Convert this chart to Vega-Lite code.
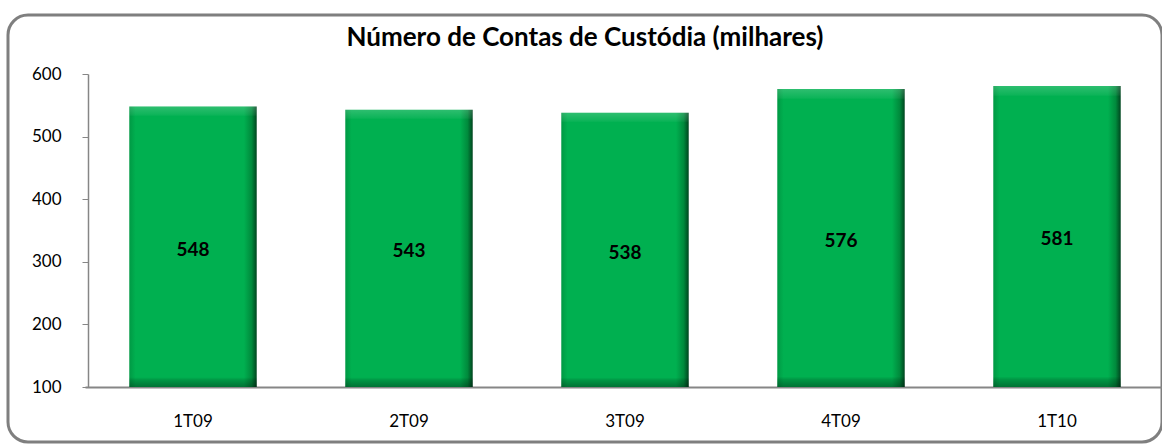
{
  "$schema": "https://vega.github.io/schema/vega-lite/v6.json",
  "autosize": {"type": "none"},
  "padding": {"left": 8, "top": 15, "right": 0, "bottom": 2},
  "width": 1154,
  "height": 427,
  "background": "white",
  "config": {
    "view": {"stroke": "#7f7f7f", "strokeWidth": 3, "cornerRadius": 20, "fill": "white"},
    "font": "Lato"
  },
  "title": {
    "text": "Número de Contas de Custódia (milhares)",
    "fontSize": 26,
    "fontWeight": "bold",
    "font": "Lato",
    "color": "#000000",
    "anchor": "middle",
    "frame": "group",
    "offset": -57,
    "baseline": "alphabetic"
  },
  "data": {
    "values": [
      {"q": "1T09", "v": 548},
      {"q": "2T09", "v": 543},
      {"q": "3T09", "v": 538},
      {"q": "4T09", "v": 576},
      {"q": "1T10", "v": 581}
    ]
  },
  "transform": [{"calculate": "(datum.v + 100) / 2", "as": "mid"}],
  "encoding": {
    "x": {
      "field": "q",
      "type": "nominal",
      "sort": null,
      "scale": {"range": [77, 1157], "paddingInner": 0.41, "paddingOuter": 0.205},
      "axis": {
        "orient": "bottom",
        "offset": -55,
        "title": null,
        "ticks": false,
        "labelPadding": 26,
        "labelFontSize": 17,
        "labelFont": "Lato",
        "labelColor": "#000000",
        "labelAngle": 0,
        "domainColor": "#868686",
        "domainWidth": 2
      }
    }
  },
  "layer": [
    {
      "mark": {
        "type": "bar",
        "color": {
          "gradient": "linear",
          "x1": 0, "x2": 1, "y1": 0, "y2": 0,
          "stops": [
            {"offset": 0, "color": "#009944"},
            {"offset": 0.05, "color": "#00b050"},
            {"offset": 0.9, "color": "#00b050"},
            {"offset": 0.96, "color": "#008a3c"},
            {"offset": 1, "color": "#00451f"}
          ]
        }
      },
      "encoding": {
        "y": {
          "field": "v",
          "type": "quantitative",
          "scale": {"domain": [100, 600], "range": [372, 59], "nice": false, "zero": false},
          "axis": {
            "orient": "left",
            "offset": -80,
            "title": null,
            "grid": false,
            "values": [100, 200, 300, 400, 500, 600],
            "domainColor": "#868686",
            "domainWidth": 1.5,
            "tickColor": "#868686",
            "tickSize": 6,
            "labelPadding": 21,
            "labelFontSize": 17,
            "labelFont": "Lato",
            "labelColor": "#000000"
          }
        },
        "y2": {"datum": 100}
      }
    },
    {
      "mark": {
        "type": "bar",
        "color": {
          "gradient": "linear",
          "x1": 0, "x2": 0, "y1": 0, "y2": 1,
          "stops": [
            {"offset": 0, "color": "rgba(255,255,255,0.18)"},
            {"offset": 0.03, "color": "rgba(255,255,255,0.05)"},
            {"offset": 0.035, "color": "rgba(255,255,255,0)"},
            {"offset": 0.965, "color": "rgba(0,0,0,0)"},
            {"offset": 0.975, "color": "rgba(0,0,0,0.15)"},
            {"offset": 1, "color": "rgba(0,0,0,0.35)"}
          ]
        }
      },
      "encoding": {
        "y": {"field": "v", "type": "quantitative"},
        "y2": {"datum": 100}
      }
    },
    {
      "mark": {"type": "text", "font": "Lato", "fontWeight": "bold", "fontSize": 19, "color": "#000000", "baseline": "middle", "dy": 3},
      "encoding": {
        "y": {"field": "mid", "type": "quantitative"},
        "text": {"field": "v", "type": "quantitative"}
      }
    }
  ]
}
